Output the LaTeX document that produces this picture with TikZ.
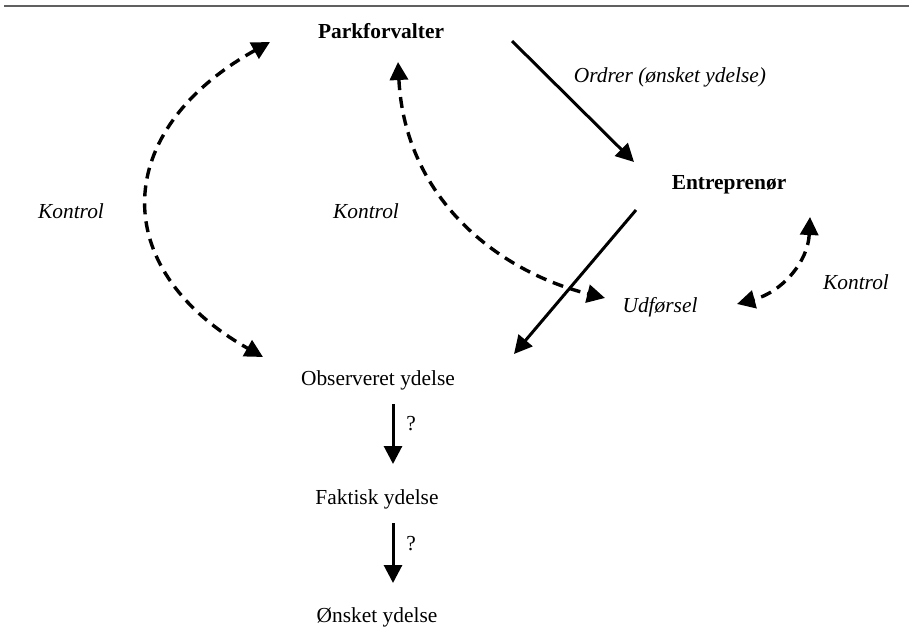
\documentclass[tikz,border=0pt]{standalone}
\usepackage{fontspec}
\setmainfont{Liberation Serif}
\usetikzlibrary{arrows.meta}
\begin{document}
\begin{tikzpicture}[x=0.5pt,y=-0.5pt,
  lbl/.style={inner sep=0pt,font=\fontsize{10.7}{12}\selectfont},
  actor/.style={lbl,font=\fontsize{10.7}{12}\selectfont\bfseries},
  note/.style={lbl,font=\fontsize{10.7}{12}\selectfont\itshape},
  tip/.style={Triangle[length=9pt,width=9pt]},
  flow/.style={line width=1.5pt,-{Triangle[length=9pt,width=9pt]}},
  ctrl/.style={line width=1.7pt,dash pattern=on 5.5pt off 3.5pt,
    {Triangle[length=9pt,width=9pt]}-{Triangle[length=9pt,width=9pt]}}]
\useasboundingbox (0,0) rectangle (909,637);
\draw[gray!75!black,line width=1.4pt] (4,6) -- (909,6);

% actors and states
\node[actor] (park) at (381,31) {Parkforvalter};
\node[actor] (entr) at (729,185) {Entreprenør};
\node[note] (ordrer) at (670,77) {Ordrer (ønsket ydelse)};
\node[note] (udf) at (660,307) {Udførsel};
\node[lbl] (obs) at (378,380) {Observeret ydelse};
\node[lbl] (fakt) at (377,499) {Faktisk ydelse};
\node[lbl] (onsk) at (377,617) {Ønsket ydelse};
\node[note] (k1) at (71,211) {Kontrol};
\node[note] (k2) at (366,211) {Kontrol};
\node[note] (k3) at (856,282) {Kontrol};
\node[lbl] (q1) at (411,424) {?};
\node[lbl] (q2) at (411,544) {?};

% connector end points
\coordinate (ordA) at (512,41);
\coordinate (ordB) at (634,162);
\coordinate (udfA) at (636,210);
\coordinate (udfB) at (514,354);
\coordinate (obsA) at (393,404);
\coordinate (obsB) at (393,464);
\coordinate (faktA) at (393,523);
\coordinate (faktB) at (393,583);
\coordinate (bigT) at (270,42);
\coordinate (bigB) at (263,357);
\coordinate (midT) at (398,62);
\coordinate (midB) at (605,298);
\coordinate (smT) at (810,217);
\coordinate (smB) at (737,304);

% solid flows
\draw[flow] (ordA) -- (ordB);
\draw[flow] (udfA) -- (udfB);
\draw[flow] (obsA) -- (obsB);
\draw[flow] (faktA) -- (faktB);

% control loops
\draw[ctrl] (bigT) .. controls (112,130) and (106,268) .. (bigB);
\draw[ctrl] (midT) .. controls (405,200) and (500,272) .. (midB);
\draw[ctrl] (smT) .. controls (808,262) and (782,292) .. (smB);
\end{tikzpicture}
\end{document}
